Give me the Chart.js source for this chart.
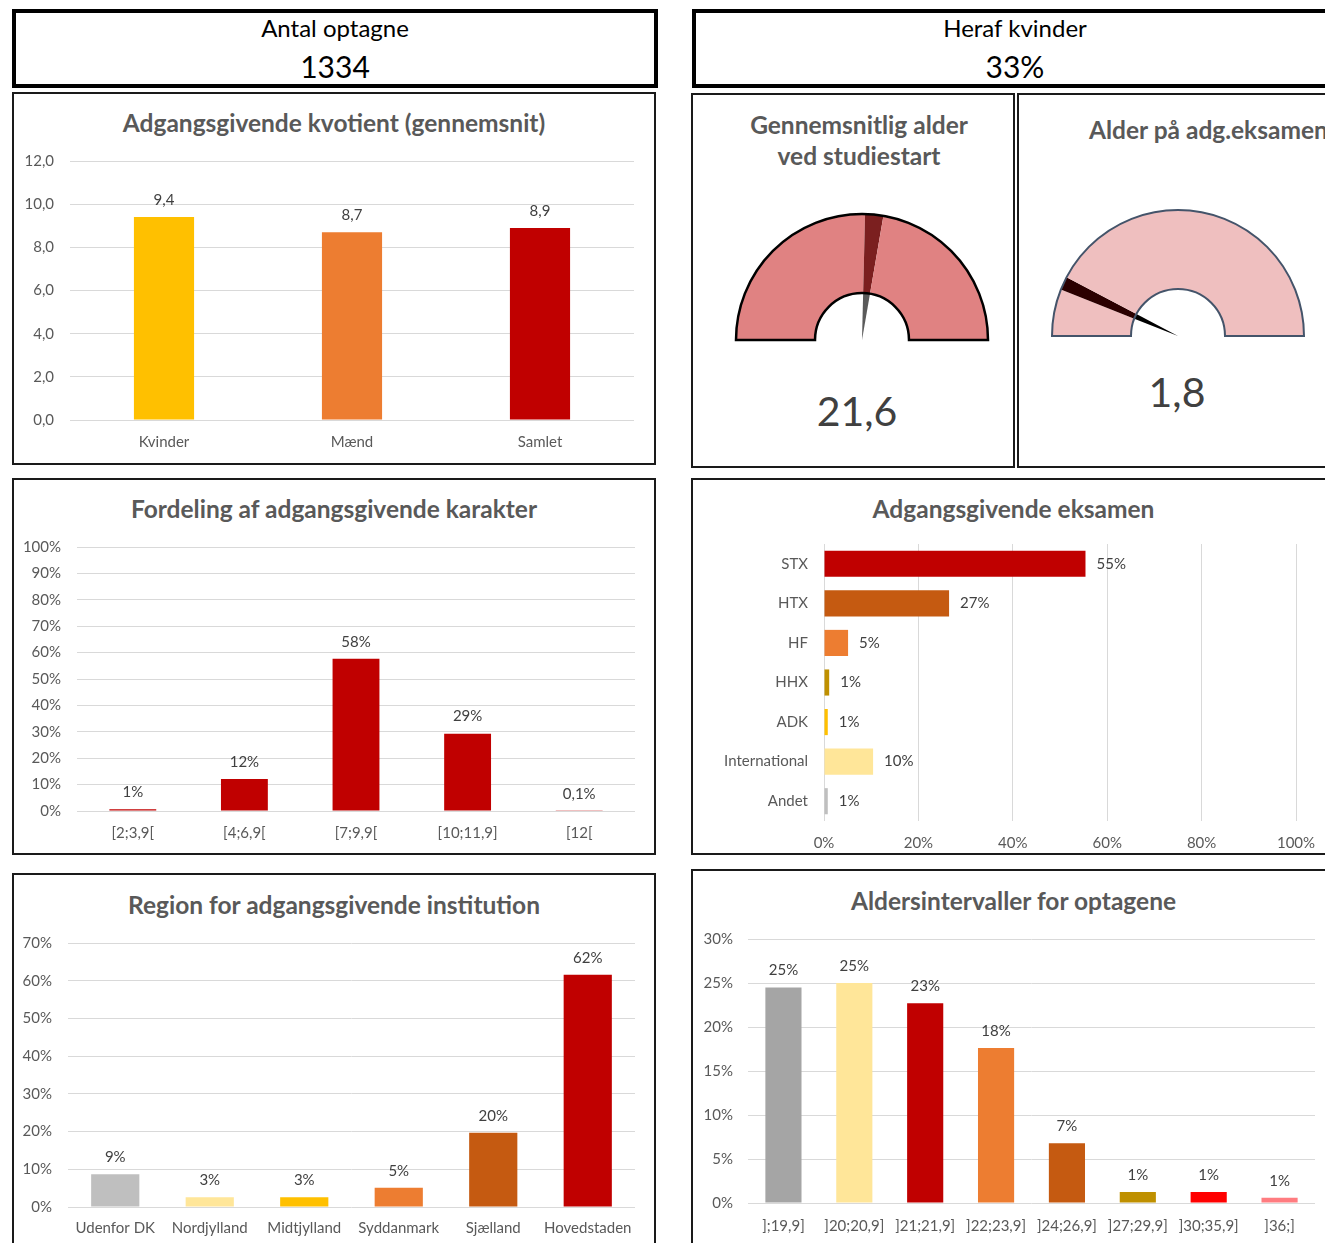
<!DOCTYPE html>
<html lang="da">
<head>
<meta charset="utf-8">
<title>Optag</title>
<script src="https://cdn.jsdelivr.net/npm/chart.js@4.4.1/dist/chart.umd.min.js"></script>
<style>
  html, body { margin: 0; padding: 0; }
  body { width: 1325px; height: 1243px; overflow: hidden; position: relative; background: #fff; font-family: Lato, "Open Sans", sans-serif; }
  .box, .panel { position: absolute; box-sizing: border-box; }
  .box { border: 4px solid #000; }
  .panel { border: 2px solid #1a1a1a; }
  .txt { position: absolute; white-space: nowrap; text-align: center; }
  .title { font-weight: bold; font-size: 24.5px; color: #595959; line-height: 30px; }
  .big { font-size: 41px; color: #404040; line-height: 50px; }
  canvas { position: absolute; }
</style>
</head>
<body>

<!-- top key figures -->
<div class="box" style="left:12px;top:9px;width:646px;height:79px"></div>
<div class="txt" style="left:12px;top:13px;width:646px;line-height:30px;font-size:24px">Antal optagne</div>
<div class="txt" style="left:12px;top:47px;width:646px;line-height:38px;font-size:30px">1334</div>

<div class="box" style="left:692px;top:9px;width:646px;height:79px"></div>
<div class="txt" style="left:692px;top:13px;width:646px;line-height:30px;font-size:24px">Heraf kvinder</div>
<div class="txt" style="left:692px;top:47px;width:646px;line-height:38px;font-size:30px">33%</div>

<!-- panels -->
<div class="panel" style="left:12px;top:92px;width:644px;height:373px"></div>
<div class="panel" style="left:691px;top:93px;width:324px;height:375px"></div>
<div class="panel" style="left:1017px;top:93px;width:330px;height:375px"></div>
<div class="panel" style="left:12px;top:478px;width:644px;height:377px"></div>
<div class="panel" style="left:691px;top:478px;width:645px;height:377px"></div>
<div class="panel" style="left:12px;top:873px;width:644px;height:380px"></div>
<div class="panel" style="left:691px;top:869px;width:645px;height:384px"></div>

<!-- titles -->
<div class="txt title" style="left:12px;top:108px;width:644px">Adgangsgivende kvotient (gennemsnit)</div>
<div class="txt title" style="left:691px;top:109px;width:336px;line-height:31px">Gennemsnitlig alder<br>ved studiestart</div>
<div class="txt title" style="left:1089px;top:115px;text-align:left">Alder på adg.eksamen</div>
<div class="txt title" style="left:12px;top:494px;width:644px">Fordeling af adgangsgivende karakter</div>
<div class="txt title" style="left:691px;top:494px;width:645px">Adgangsgivende eksamen</div>
<div class="txt title" style="left:12px;top:890px;width:644px">Region for adgangsgivende institution</div>
<div class="txt title" style="left:691px;top:886px;width:645px">Aldersintervaller for optagene</div>

<div class="txt big" style="left:757px;top:386px;width:200px">21,6</div>
<div class="txt big" style="left:1077px;top:367px;width:200px">1,8</div>

<canvas id="kvotient" width="640" height="369" style="left:14px;top:94px;width:640px;height:369px"></canvas>
<canvas id="gauge1" width="258" height="132" style="left:733px;top:211px;width:258px;height:132px"></canvas>
<canvas id="gauge2" width="258" height="132" style="left:1049px;top:207px;width:258px;height:132px"></canvas>
<canvas id="karakter" width="640" height="373" style="left:14px;top:480px;width:640px;height:373px"></canvas>
<canvas id="eksamen" width="641" height="373" style="left:693px;top:480px;width:641px;height:373px"></canvas>
<canvas id="region" width="640" height="376" style="left:14px;top:875px;width:640px;height:376px"></canvas>
<canvas id="alder" width="641" height="380" style="left:693px;top:871px;width:641px;height:380px"></canvas>

<script>
// ---- data ----
const kvotLabels = ['Kvinder', 'Mænd', 'Samlet'];
const kvotValues = [9.4, 8.7, 8.9];
const kvotColors = ['#FFC000', '#ED7D31', '#C00000'];

const karakterLabels = ['[2;3,9[', '[4;6,9[', '[7;9,9[', '[10;11,9]', '[12['];
const karakterValues = [0.007, 0.121, 0.577, 0.293, 0.001];

const eksamenLabels = ['STX', 'HTX', 'HF', 'HHX', 'ADK', 'International', 'Andet'];
const eksamenValues = [0.554, 0.265, 0.051, 0.011, 0.008, 0.104, 0.008];
const eksamenColors = ['#C00000', '#C55A11', '#ED7D31', '#BF9000', '#FFC000', '#FFE699', '#BFBFBF'];

const regionLabels = ['Udenfor DK', 'Nordjylland', 'Midtjylland', 'Syddanmark', 'Sjælland', 'Hovedstaden'];
const regionValues = [0.087, 0.026, 0.026, 0.051, 0.197, 0.616];
const regionColors = ['#BFBFBF', '#FFE699', '#FFC000', '#ED7D31', '#C55A11', '#C00000'];

const alderLabels = [' ;19,9]', ']20;20,9]', ']21;21,9]', ']22;23,9]', ']24;26,9]', ']27;29,9]', ']30;35,9]', ']36;]'];
alderLabels[0] = ']' + alderLabels[0].trim();
const alderValues = [0.245, 0.250, 0.227, 0.176, 0.068, 0.0125, 0.0125, 0.006];
const alderColors = ['#A5A5A5', '#FFE699', '#C00000', '#ED7D31', '#C55A11', '#BF9000', '#FF0000', '#FF7C80'];

// gauge segments in degrees of the half circle: before needle, needle, after needle
const gauge1Segments = [91.4, 8.4, 80.2];
const gauge2Segments = [21.6, 6.2, 152.2];

// ---- defaults ----
Chart.defaults.animation = false;
Chart.defaults.events = [];
Chart.defaults.font.family = 'Lato, "Open Sans", sans-serif';
Chart.defaults.font.size = 15;
Chart.defaults.color = '#595959';
Chart.defaults.plugins.legend.display = false;
Chart.defaults.plugins.tooltip.enabled = false;

const comma = (s) => String(s).replace('.', ',');
const fmtKvot = (v) => comma(Number(v).toFixed(1));
const fmtPct = (v) => v >= 0.005 ? Math.round(v * 100) + '%' : comma((v * 100).toFixed(1)) + '%';
const fmtTickPct = (v) => Math.round(v * 100) + '%';

// value labels on bars
const valueLabels = {
  id: 'valueLabels',
  afterDatasetsDraw(chart) {
    const ds = chart.data.datasets[0];
    const meta = chart.getDatasetMeta(0);
    const ctx = chart.ctx;
    const horizontal = chart.options.indexAxis === 'y';
    ctx.save();
    ctx.font = '15px Lato, "Open Sans", sans-serif';
    ctx.fillStyle = '#404040';
    ctx.textBaseline = 'middle';
    meta.data.forEach((bar, i) => {
      const text = ds.labelFormat(ds.data[i]);
      if (horizontal) {
        ctx.textAlign = 'left';
        ctx.fillText(text, bar.x + 11, bar.y);
      } else {
        ctx.textAlign = 'center';
        ctx.fillText(text, bar.x, bar.y - 17);
      }
    });
    ctx.restore();
  }
};

// valPad = tick padding of the value axis, catPad = tick padding of the category axis
function barChart(id, labels, values, colors, o) {
  const horizontal = !!o.horizontal;
  const valueScale = {
    min: 0,
    max: o.max,
    grid: { color: '#D9D9D9', lineWidth: 1, drawTicks: false },
    border: { display: false },
    ticks: { stepSize: o.step, padding: o.valPad, callback: o.tickFmt, color: '#595959' }
  };
  const catScale = {
    grid: { display: false, drawTicks: false },
    border: { display: false },
    ticks: { padding: o.catPad, color: '#595959' }
  };
  const fixWidth = (scale) => { scale.width = o.axisWidth; };
  const fixHeight = (scale) => { scale.height = o.axisHeight; };
  if (horizontal) {
    catScale.afterFit = fixWidth;
    valueScale.afterFit = fixHeight;
  } else {
    valueScale.afterFit = fixWidth;
    catScale.afterFit = fixHeight;
  }

  return new Chart(document.getElementById(id), {
    type: 'bar',
    data: {
      labels: labels,
      datasets: [{
        data: values,
        backgroundColor: colors,
        categoryPercentage: 1,
        barPercentage: o.bar,
        labelFormat: o.labelFmt
      }]
    },
    options: {
      responsive: false,
      indexAxis: horizontal ? 'y' : 'x',
      layout: { padding: o.padding },
      scales: horizontal ? { x: valueScale, y: catScale } : { x: catScale, y: valueScale }
    },
    plugins: [valueLabels]
  });
}

barChart('kvotient', kvotLabels, kvotValues, kvotColors, {
  max: 12, step: 2, tickFmt: fmtKvot, labelFmt: fmtKvot, bar: 0.32,
  axisWidth: 56, axisHeight: 43, valPad: 16, catPad: 13,
  padding: { top: 67, right: 20, bottom: 0, left: 0 }
});

barChart('karakter', karakterLabels, karakterValues, '#C00000', {
  max: 1, step: 0.1, tickFmt: fmtTickPct, labelFmt: fmtPct, bar: 0.42,
  axisWidth: 63, axisHeight: 42, valPad: 16, catPad: 13,
  padding: { top: 67, right: 19, bottom: 0, left: 0 }
});

barChart('eksamen', eksamenLabels, eksamenValues, eksamenColors, {
  horizontal: true,
  max: 1, step: 0.2, tickFmt: fmtTickPct, labelFmt: fmtPct, bar: 0.66,
  axisWidth: 131, axisHeight: 32, valPad: 13, catPad: 16,
  padding: { top: 64, right: 38, bottom: 0, left: 0 }
});

barChart('region', regionLabels, regionValues, regionColors, {
  max: 0.7, step: 0.1, tickFmt: fmtTickPct, labelFmt: fmtPct, bar: 0.51,
  axisWidth: 54, axisHeight: 44, valPad: 16, catPad: 12,
  padding: { top: 68, right: 19, bottom: 0, left: 0 }
});

barChart('alder', alderLabels, alderValues, alderColors, {
  max: 0.3, step: 0.05, tickFmt: fmtTickPct, labelFmt: fmtPct, bar: 0.51,
  axisWidth: 55, axisHeight: 48, valPad: 15, catPad: 14,
  padding: { top: 68, right: 19, bottom: 0, left: 0 }
});

// ---- gauges ----
const gaugeOutline = {
  id: 'gaugeOutline',
  afterDatasetsDraw(chart) {
    const ds = chart.data.datasets[0];
    const arc = chart.getDatasetMeta(0).data[0];
    const { x, y, innerRadius, outerRadius } = arc.getProps(['x', 'y', 'innerRadius', 'outerRadius'], true);
    const ctx = chart.ctx;
    ctx.save();
    ctx.beginPath();
    ctx.arc(x, y, outerRadius, Math.PI, 2 * Math.PI);
    ctx.lineTo(x + innerRadius, y);
    ctx.arc(x, y, innerRadius, 0, Math.PI, true);
    ctx.closePath();
    ctx.lineWidth = ds.outlineWidth;
    ctx.strokeStyle = ds.outlineColor;
    ctx.stroke();
    ctx.restore();
  }
};

function gauge(id, segments, ringColor, needleColor, holeNeedleColor, outlineColor, outlineWidth) {
  return new Chart(document.getElementById(id), {
    type: 'doughnut',
    data: {
      datasets: [
        {
          data: segments,
          backgroundColor: [ringColor, needleColor, ringColor],
          borderWidth: 0, hoverBorderWidth: 0, hoverOffset: 0,
          weight: 79,
          outlineColor: outlineColor,
          outlineWidth: outlineWidth
        },
        {
          data: segments,
          backgroundColor: ['rgba(0,0,0,0)', holeNeedleColor, 'rgba(0,0,0,0)'],
          borderWidth: 0, hoverBorderWidth: 0, hoverOffset: 0,
          weight: 47
        }
      ]
    },
    options: {
      responsive: false,
      rotation: -90,
      circumference: 180,
      cutout: 0,
      layout: { padding: 3 }
    },
    plugins: [gaugeOutline]
  });
}

gauge('gauge1', gauge1Segments, '#E08282', '#7B1F1F', '#5A5A5A', '#000000', 2.5);
gauge('gauge2', gauge2Segments, '#EFBFBF', '#2B0000', '#000000', '#44546A', 2);
</script>
</body>
</html>
